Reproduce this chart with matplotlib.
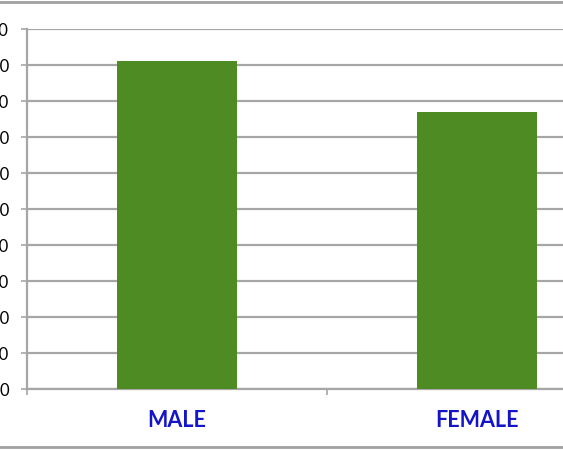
import matplotlib.pyplot as plt
from matplotlib.lines import Line2D
import numpy as np

categories = ["MALE", "FEMALE"]
values = [91, 77]
y_ticks = [0, 10, 20, 30, 40, 50, 60, 70, 80, 90, 100]

plt.rcParams['font.family'] = ['Lato', 'DejaVu Sans']

W, H = 563, 450
fig = plt.figure(figsize=(W / 100, H / 100), dpi=100)
# axes runs past the right edge, like the cropped screenshot
ax = fig.add_axes([27 / W, 1 - 389 / H, 600 / W, 360 / H])

x = np.arange(len(categories))
ax.bar(x, values, width=0.4, color='#4e8b22', zorder=3)

ax.set_xlim(-0.5, 1.5)
ax.set_ylim(0, 100)
ax.set_yticks(y_ticks)
ax.yaxis.grid(True, color='#a6a6a6', linewidth=1.6, zorder=0)

ax.set_xticks(x)
ax.set_xticklabels(categories, fontsize=15.5, fontweight='bold', color='#1414c8')
ax.set_xticks([-0.5, 0.5, 1.5], minor=True)
ax.tick_params(axis='x', which='major', length=0, pad=15)
ax.tick_params(axis='x', which='minor', length=4.5, width=1.2, color='#a6a6a6')
ax.tick_params(axis='y', length=4.5, width=1.2, color='#a6a6a6', pad=8.5, labelsize=12)

for s in ['top', 'right']:
    ax.spines[s].set_visible(False)
for s in ['left', 'bottom']:
    ax.spines[s].set_color('#a6a6a6')
    ax.spines[s].set_linewidth(1.6)

# frame lines of the screenshot
fig.add_artist(Line2D([0, 1], [1 - 2 / H, 1 - 2 / H], color='#a0a0a0', linewidth=2, transform=fig.transFigure))
fig.add_artist(Line2D([0, 1], [1 - 447 / H, 1 - 447 / H], color='#a0a0a0', linewidth=2, transform=fig.transFigure))

fig.savefig('out.png', dpi=100)
